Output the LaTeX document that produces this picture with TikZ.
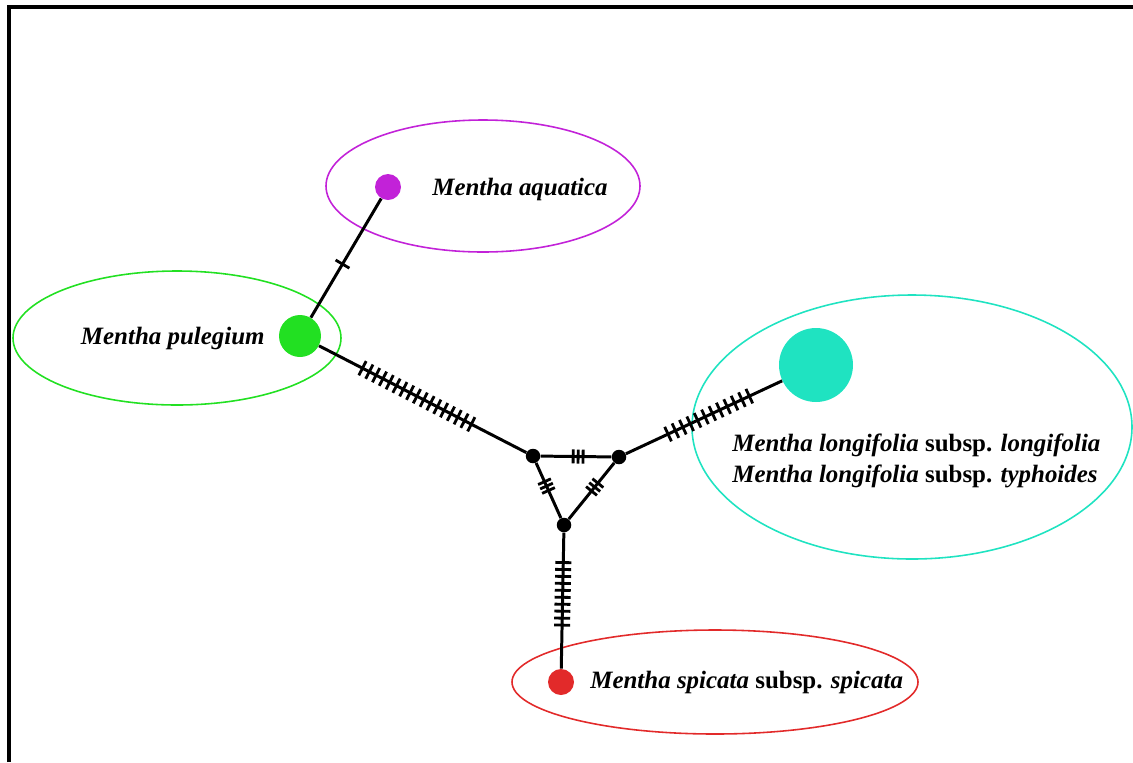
\documentclass[tikz,border=0pt]{standalone}
\usepackage{fontspec}
\setmainfont{Liberation Serif}
\usetikzlibrary{decorations.markings}

\definecolor{aquaticaC}{HTML}{C222D8}
\definecolor{pulegiumC}{HTML}{22E022}
\definecolor{longifoliaC}{HTML}{1FE3C1}
\definecolor{spicataC}{HTML}{E22A2A}

\begin{document}
\begin{tikzpicture}[
    x=0.02cm, y=-0.02cm,
    hap/.style={circle, inner sep=0mm, fill=#1},
    median/.style={circle, inner sep=0mm, fill=black, minimum size=0.29cm},
    taxon/.style={font=\fontsize{14.2}{18}\selectfont\bfseries\itshape, inner sep=0pt, align=left},
    group/.style={draw=#1, line width=0.9pt},
    edge/.style={line width=1.7pt},
    muts/.style n args={3}{postaction={decorate, decoration={markings,
        mark=between positions #1 and #2 step #3 with {\draw[line width=1.6pt] (0,-8) -- (0,8);}}}},
    tmuts/.style n args={3}{postaction={decorate, decoration={markings,
        mark=between positions #1 and #2 step #3 with {\draw[line width=1.6pt] (0,-7) -- (0,7);}}}}
]
\useasboundingbox (0,0) rectangle (1133,762);

% Frame
\draw[line width=2pt] (9,762) -- (9,7) -- (1133,7);

% Groups
\draw[group=aquaticaC] (483,186) ellipse [x radius=157, y radius=66];
\draw[group=pulegiumC] (177,338) ellipse [x radius=164, y radius=67];
\draw[group=longifoliaC] (912,427) ellipse [x radius=220, y radius=132];
\draw[group=spicataC] (715,682) ellipse [x radius=203, y radius=52];

% Nodes
\node[hap=aquaticaC, minimum size=0.52cm] (aqu) at (388,187) {};
\node[hap=pulegiumC, minimum size=0.84cm] (pul) at (300,336) {};
\node[hap=longifoliaC, minimum size=1.48cm] (lon) at (816,365) {};
\node[hap=spicataC, minimum size=0.52cm] (spi) at (561,682) {};
\node[median] (m1) at (533,456) {};
\node[median] (m2) at (619,457) {};
\node[median] (m3) at (564,525) {};

% Edges
\draw[edge, muts={0.45}{0.46}{0.1}] (pul) -- (aqu);
\draw[edge, muts={0.21}{0.736}{0.0328}] (pul) -- (m1);
\draw[edge, tmuts={0.46}{0.601}{0.07}] (m1) -- (m2);
\draw[edge, tmuts={0.34}{0.501}{0.08}] (m1) -- (m3);
\draw[edge, tmuts={0.36}{0.501}{0.07}] (m2) -- (m3);
\draw[edge, muts={0.27}{0.791}{0.0473}] (m2) -- (lon);
\draw[edge, muts={0.22}{0.681}{0.0511}] (m3) -- (spi);

% Labels
\node[taxon, anchor=west] (laqu) at (432,189) {Mentha aquatica};
\node[taxon, anchor=east] (lpul) at (265,338) {Mentha pulegium};
\node[taxon, anchor=west] (llon) at (732,461)
    {Mentha longifolia \textup{subsp.} longifolia\\Mentha longifolia \textup{subsp.} typhoides};
\node[taxon, anchor=west] (lspi) at (590,682) {Mentha spicata \textup{subsp.} spicata};

\end{tikzpicture}
\end{document}
